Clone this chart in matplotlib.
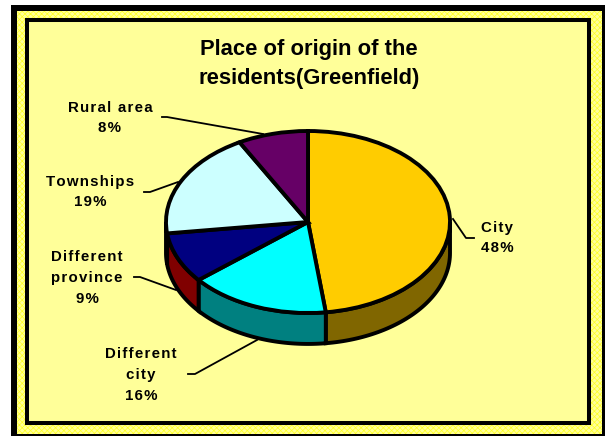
import matplotlib.pyplot as plt
import numpy as np
from matplotlib.patches import Rectangle, Polygon

labels = ['City', 'Different\ncity', 'Different\nprovince', 'Townships', 'Rural area']
values = [48, 16, 9, 19, 8]
top_colors = ['#FFCC00', '#00FFFF', '#000080', '#CCFFFF', '#660066']
side_colors = ['#806600', '#008080', '#800000', '#668080', '#330033']
title = 'Place of origin of the\nresidents(Greenfield)'

W, H = 605, 436
DEPTH = 0.34
HAIR = '\u200a'

plt.rcParams['font.family'] = ['Liberation Sans', 'DejaVu Sans']
plt.rcParams['hatch.linewidth'] = 0.5


def spaced(s):
    # the original labels are letter spaced
    return '\n'.join(HAIR.join(line) for line in s.split('\n'))


fig = plt.figure(figsize=(W / 100, H / 100), dpi=100, facecolor='white')

#--------------------------Frame, in pixels
bg = fig.add_axes([0, 0, 1, 1])
bg.set_xlim(0, W)
bg.set_ylim(H, 0)
bg.axis('off')
bg.add_patch(Rectangle((11, 5), 594, 431, fc='black', ec='none'))
bg.add_patch(Rectangle((17, 11), 585, 423, fc='#FFFF99', ec='#FFFF22', lw=0, hatch='xxxxxx'))
bg.add_patch(Rectangle((27, 20), 562, 403, fc='#FFFF99', ec='black', lw=2.9))

#--------------------------Pie
left, right, top, bottom = 166, 450, 131, 313
ax = fig.add_axes([left / W, 1 - bottom / H, (right - left) / W, (bottom - top) / H])
wedges, _ = ax.pie(values, colors=top_colors, startangle=90, counterclock=False, radius=1,
                   wedgeprops={'edgecolor': 'black', 'linewidth': 2.8, 'zorder': 3, 'clip_on': False})
ax.set_aspect('auto')
ax.set_xlim(-1, 1)
ax.set_ylim(-1, 1)
ax.patch.set_alpha(0)

# side wall of the slices on the front half
edges = np.cumsum([0] + values) / sum(values) * 2 * np.pi
for i in range(len(values)):
    a0, a1 = edges[i], edges[i + 1]
    a0, a1 = max(a0, np.pi / 2), min(a1, 3 * np.pi / 2)
    if a1 <= a0:
        continue
    t = np.linspace(a0, a1, 60)
    x, y = np.sin(t), np.cos(t)
    pts = np.r_[np.c_[x, y], np.c_[x[::-1], y[::-1] - DEPTH]]
    ax.add_patch(Polygon(pts, closed=True, fc=side_colors[i], ec='black', lw=2.8, zorder=2, clip_on=False))

#--------------------------Text
bg.text(309, 64, title, ha='center', va='center', fontsize=15.8, fontweight='bold', linespacing=1.5)

label_pos = [(497, 238), (141, 375), (87, 278), (90, 192), (110, 118)]
for name, val, (lx, ly) in zip(labels, values, label_pos):
    bg.text(lx, ly, spaced(f'{name}\n{val}%'), ha='center', va='center', fontsize=10.8,
            fontweight='bold', linespacing=1.62, zorder=6)

leaders = [
    [(474, 238), (466, 238), (453, 219)],
    [(188, 374), (195, 374), (257, 340)],
    [(134, 277), (140, 277), (176, 290)],
    [(144, 192), (150, 192), (178, 182)],
    [(162, 117), (167, 117), (263, 134)],
]
for line in leaders:
    xs, ys = zip(*line)
    bg.plot(xs, ys, color='black', lw=1.3)

fig.savefig('out.png', dpi=100)
plt.close()
